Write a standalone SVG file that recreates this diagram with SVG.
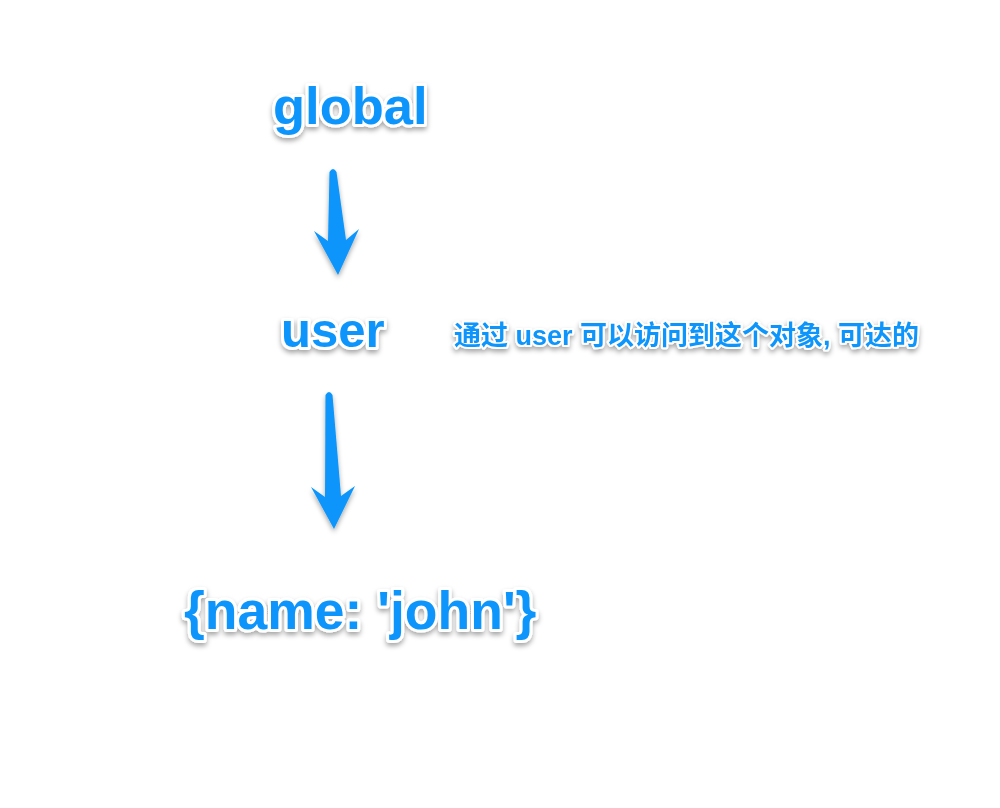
<svg xmlns="http://www.w3.org/2000/svg" width="1000" height="808" viewBox="0 0 1000 808">
<defs>
<filter id="sh" x="-20%" y="-30%" width="140%" height="170%">
<feDropShadow dx="0" dy="3" stdDeviation="2.5" flood-color="#000" flood-opacity="0.35"/>
</filter>
</defs>
<style>
.t{font-family:"Liberation Sans","Noto Sans CJK SC",Arial,sans-serif;font-weight:bold;fill:#0A95FB;stroke:#fff;stroke-width:6;stroke-linejoin:round;paint-order:stroke fill;}
.c{font-family:"Liberation Sans","Noto Sans CJK SC",sans-serif;font-weight:bold;fill:#0A95FB;stroke:#fff;stroke-width:4;stroke-linejoin:round;paint-order:stroke fill;}
.a{fill:#0A95FB;}
</style>
<rect width="1000" height="808" fill="#fff"/>
<g id="connectors">
<path class="a" filter="url(#sh)" d="M329.5,172 Q333,166 336.5,172 L346,240 L359,229 L338,275 L314,231 L328,241 Z"/>
<path class="a" filter="url(#sh)" d="M325.5,395 Q329,389 332.5,395 L341,496 L355,486 L334,529 L311,487 L325,497 Z"/>
</g>
<g id="global" filter="url(#sh)"><text class="t" x="273" y="124" font-size="52.5">global</text></g>
<g id="user" filter="url(#sh)"><text class="t" x="281" y="347" font-size="49">user</text></g>
<g id="note" filter="url(#sh)"><text class="c" x="454" y="345" font-size="27">通过 user 可以访问到这个对象, 可达的</text></g>
<g id="obj" filter="url(#sh)"><text class="t" x="184" y="629" font-size="53.5">{name: 'john'}</text></g>
</svg>
